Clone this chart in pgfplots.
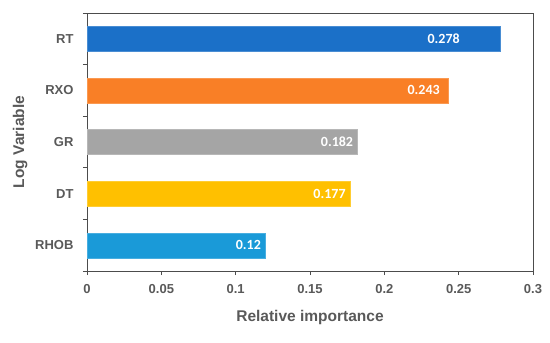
\documentclass[border=0pt]{standalone}
\usepackage{fontspec}
\setmainfont{Liberation Sans}
\newfontfamily\valfont{Carlito}
\usepackage{pgfplots}
\pgfplotsset{compat=1.18}
\definecolor{cRT}{HTML}{1B70C8}
\definecolor{cRXO}{HTML}{F97F26}
\definecolor{cGR}{HTML}{A5A5A5}
\definecolor{cDT}{HTML}{FFC000}
\definecolor{cRHOB}{HTML}{1A9AD8}
\definecolor{txt}{HTML}{595959}
\begin{document}
\begin{tikzpicture}
\begin{axis}[
  name=ax,
  scale only axis,
  width=446pt, height=258pt,
  xbar, bar width=25pt,
  xmin=0, xmax=0.3,
  ymin=-0.5, ymax=4.5,
  xtick={0,0.05,0.1,0.15,0.2,0.25,0.3},
  xticklabels={0,0.05,0.1,0.15,0.2,0.25,0.3},
  ytick={0,1,2,3,4},
  yticklabels={RHOB,DT,GR,RXO,RT},
  minor ytick={-0.5,0.5,1.5,2.5,3.5,4.5},
  tick align=outside,
  major tick length=4pt,
  minor tick length=4pt,
  x tick style={draw=black!70, line width=0.8pt},
  y tick style={draw=black!70, line width=0.8pt},
  major y tick style={draw=none},
  xtick pos=bottom, ytick pos=left,
  axis line style={draw=black!70, line width=0.8pt},
  ticklabel style={font=\fontsize{13}{15}\selectfont\bfseries, text=txt},
  yticklabel style={xshift=-6pt},
  xticklabel style={yshift=-6pt},
  /pgf/number format/assume math mode=true,
  xlabel={Relative importance},
  ylabel={Log Variable},
  label style={font=\fontsize{15.5}{18}\selectfont\bfseries, text=txt},
  xlabel style={yshift=-10pt},
  ylabel style={yshift=1pt},
  nodes near coords={\pgfmathprintnumber[fixed,precision=3]{\pgfplotspointmeta}},
  every node near coord/.append style={anchor=east, text=white, font=\valfont\fontsize{14}{16}\selectfont\bfseries, xshift=-1pt},
]
\addplot[fill=cRHOB, draw=cRHOB!80!white, bar shift=0pt] coordinates {(0.120,0)};
\addplot[fill=cDT, draw=cDT!80!white, bar shift=0pt] coordinates {(0.177,1)};
\addplot[fill=cGR, draw=cGR!80!white, bar shift=0pt] coordinates {(0.182,2)};
\addplot[fill=cRXO, draw=cRXO!80!white, bar shift=0pt, every node near coord/.append style={xshift=-4pt}] coordinates {(0.243,3)};
\addplot[fill=cRT, draw=cRT!80!white, bar shift=0pt, every node near coord/.append style={xshift=-36pt}] coordinates {(0.278,4)};
\end{axis}
\path ([shift={(-87pt,-71pt)}]ax.south west) rectangle ([shift={(17pt,13pt)}]ax.north east);
\end{tikzpicture}
\end{document}
